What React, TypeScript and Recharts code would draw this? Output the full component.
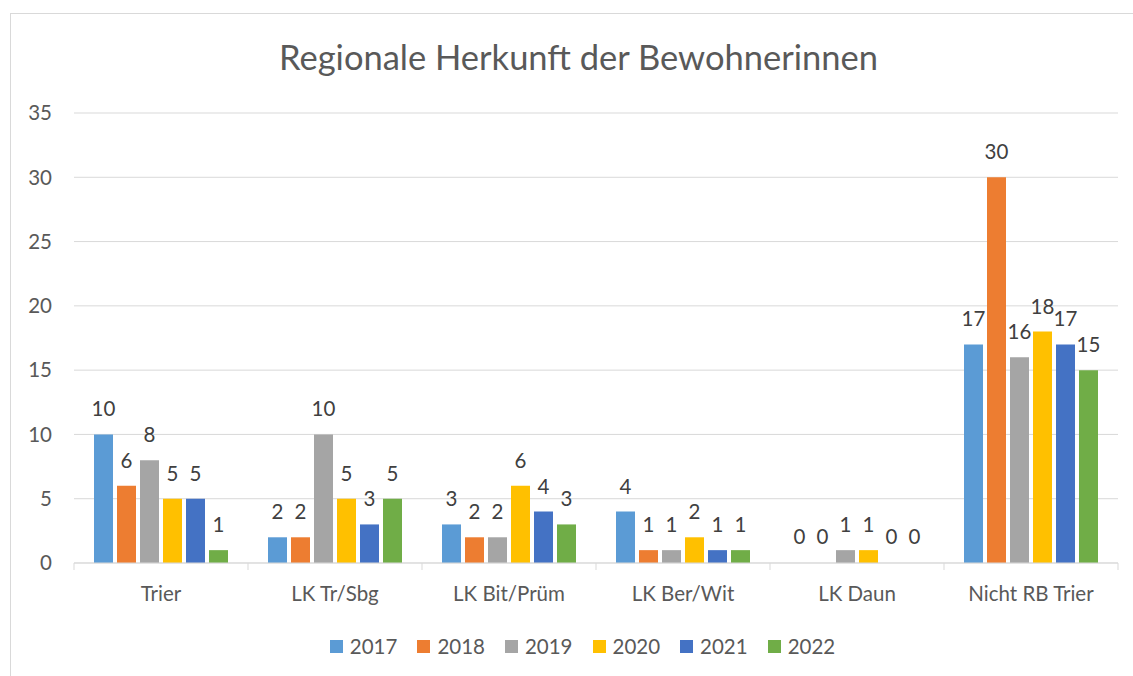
import { Bar, BarChart, CartesianGrid, LabelList, Legend, Rectangle, XAxis, YAxis } from "recharts"

const categories = ["Trier", "LK Tr/Sbg", "LK Bit/Prüm", "LK Ber/Wit", "LK Daun", "Nicht RB Trier"]
const years = ["2017", "2018", "2019", "2020", "2021", "2022"]
const colors = ["#5B9BD5", "#ED7D31", "#A5A5A5", "#FFC000", "#4472C4", "#70AD47"]

const v2017 = [10, 2, 3, 4, 0, 17]
const v2018 = [6, 2, 2, 1, 0, 30]
const v2019 = [8, 10, 2, 1, 1, 16]
const v2020 = [5, 5, 6, 2, 1, 18]
const v2021 = [5, 3, 4, 1, 0, 17]
const v2022 = [1, 5, 3, 1, 0, 15]

const yTicks = [0, 5, 10, 15, 20, 25, 30, 35]

const series = [v2017, v2018, v2019, v2020, v2021, v2022]

const data = categories.map((name, i) => {
  const row: Record<string, string | number> = { name }
  years.forEach((y, j) => {
    row[y] = series[j][i]
  })
  return row
})

const FONT = "Lato, 'Open Sans', sans-serif"
const FS = 20.5
const GRID = "#D9D9D9"

function LegendContent() {
  return (
    <div style={{ display: "flex", justifyContent: "center", alignItems: "center", gap: 20 }}>
      {years.map((y, i) => (
        <div key={y} style={{ display: "flex", alignItems: "center" }}>
          <span style={{ width: 13, height: 13, background: colors[i], display: "inline-block", marginRight: 7 }} />
          <span style={{ fontSize: FS, color: "#595959", fontFamily: FONT }}>{y}</span>
        </div>
      ))}
    </div>
  )
}

// value above the bar, zero values included
function ValueLabel(props: any) {
  const { x, y, width, value } = props
  if (x == null || y == null) return null
  return (
    <text x={Number(x) + Number(width) / 2} y={Number(y) - 18} textAnchor="middle" fill="#404040" fontSize={FS} fontFamily={FONT}>
      {String(value)}
    </text>
  )
}

// zero bars get a min size so they keep a label, but are not drawn
function BarShape(props: any) {
  if (!props.value) return <g />
  return <Rectangle {...props} />
}

const TICK_MARGIN = 23

// category label plus excel-like tick marks between categories
function CategoryTick(props: any) {
  const { x, y, payload, index, visibleTicksCount } = props
  const half = payload?.offset ?? 0
  const axisY = y - TICK_MARGIN
  const isLast = index === visibleTicksCount - 1
  return (
    <g>
      <line x1={x - half} x2={x - half} y1={axisY} y2={axisY + 7} stroke={GRID} />
      {isLast && <line x1={x + half} x2={x + half} y1={axisY} y2={axisY + 7} stroke={GRID} />}
      <text x={x} y={y} dy="0.71em" textAnchor="middle" fill="#595959" fontSize={FS} fontFamily={FONT}>
        {payload.value}
      </text>
    </g>
  )
}

export default function App() {
  return (
    <div style={{ position: "absolute", left: 0, top: 0, width: 1133, height: 676, overflow: "hidden", background: "#fff", fontFamily: FONT }}>
      <div style={{ position: "absolute", left: 10, top: 13, width: 1200, height: 700, border: "1px solid #D9D9D9" }} />
      <div style={{ position: "absolute", left: 0, top: 36, width: 1157, textAlign: "center", fontSize: 34.5, lineHeight: 1.2, color: "#595959", fontFamily: FONT }}>
        Regionale Herkunft der Bewohnerinnen
      </div>
      <div style={{ position: "absolute", left: 0, top: 0 }}>
        <BarChart
          width={1133}
          height={676}
          data={data}
          margin={{ top: 113, right: 15, bottom: 73, left: 0 }}
          barCategoryGap={20}
          barGap={4}
        >
          <CartesianGrid vertical={false} stroke={GRID} />
          <XAxis
            dataKey="name"
            height={40}
            axisLine={{ stroke: GRID }}
            tickLine={false}
            tickSize={0}
            tickMargin={TICK_MARGIN}
            tick={<CategoryTick />}
            interval={0}
          />
          <YAxis
            width={74}
            domain={[0, 35]}
            ticks={yTicks}
            axisLine={false}
            tickLine={false}
            tickSize={0}
            tickMargin={22}
            tick={{ fill: "#595959", fontSize: FS, fontFamily: FONT }}
          />
          <Legend
            verticalAlign="middle"
            content={<LegendContent />}
            wrapperStyle={{ top: 634, left: 0, width: 1165 }}
          />
          {years.map((y, i) => (
            <Bar key={y} dataKey={y} fill={colors[i]} minPointSize={1} shape={<BarShape />} isAnimationActive={false}>
              <LabelList dataKey={y} content={<ValueLabel />} />
            </Bar>
          ))}
        </BarChart>
      </div>
    </div>
  )
}
